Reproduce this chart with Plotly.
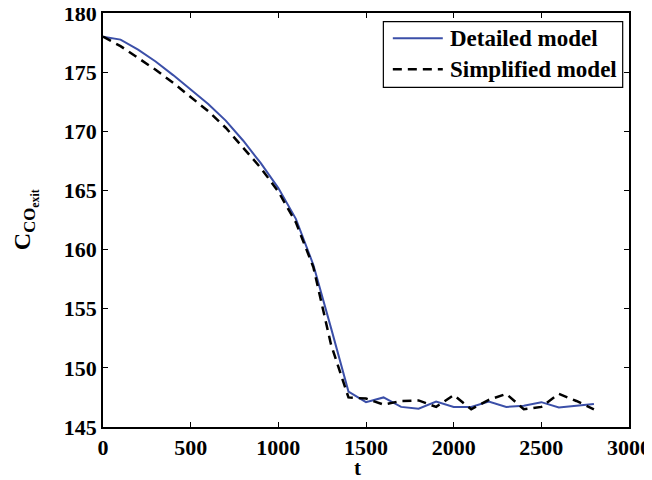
import plotly.graph_objects as go

t = [0, 100, 200, 300, 400, 500, 600, 700, 800, 900, 1000, 1100, 1200, 1300, 1400,
     1500, 1600, 1700, 1800, 1900, 2000, 2100, 2200, 2300, 2400, 2500, 2600, 2700, 2800]

detailed = [178.0, 177.75, 176.9, 175.9, 174.75, 173.55, 172.3, 170.9, 169.2, 167.3, 165.2,
            162.6, 158.7, 153.4, 148.0, 147.1, 147.5, 146.7, 146.55, 147.15, 146.7, 146.7,
            147.15, 146.7, 146.8, 147.1, 146.65, 146.8, 146.95]

simplified = [178.0, 177.2, 176.2, 175.2, 174.1, 172.9, 171.7, 170.3, 168.6, 166.9, 164.9,
              162.3, 158.5, 152.0, 147.5, 147.4, 146.9, 147.2, 147.25, 146.7, 147.7, 146.5,
              147.3, 147.8, 146.5, 146.7, 147.8, 147.2, 146.5]

series_names = ["Detailed model", "Simplified model"]
series_colors = ["#3b4fa8", "black"]
series_dash = ["solid", "9px,6px"]
series_width = [2, 2.5]

xticks = [0, 500, 1000, 1500, 2000, 2500, 3000]
yticks = [145, 150, 155, 160, 165, 170, 175, 180]

FONT = "Times New Roman, Liberation Serif, Times, serif"

fig = go.Figure()
for name, ys, col, dsh, w in zip(series_names, [detailed, simplified], series_colors,
                                 series_dash, series_width):
    fig.add_trace(go.Scatter(x=t, y=ys, mode="lines", name=name,
                             line=dict(color=col, width=w, dash=dsh)))

axis_common = dict(showline=True, linecolor="black", linewidth=1.5, mirror="ticks",
                   ticks="inside", ticklen=5, tickcolor="black", showgrid=False, zeroline=False,
                   automargin=False, ticklabeloverflow="allow",
                   tickfont=dict(family=FONT, size=22, color="black"))

# page body has an 8px offset; figure size and margins compensate for it
fig.update_layout(
    width=644, height=472,
    margin=dict(l=95, r=23, t=5, b=53, autoexpand=False),
    paper_bgcolor="white", plot_bgcolor="white",
    font=dict(family=FONT, color="black"),
    xaxis=dict(range=[0, 3000], tickvals=xticks,
               ticktext=["<b>%d</b>" % v for v in xticks], **axis_common),
    yaxis=dict(range=[145, 180], tickvals=yticks,
               ticktext=["<b>%d</b>" % v for v in yticks], **axis_common),
    showlegend=False,
)

# legend drawn manually (box, sample lines, labels)
fig.add_shape(type="rect", xref="paper", yref="paper", x0=0.533, x1=0.988, y0=0.8205, y1=0.979,
              line=dict(color="black", width=1.2), fillcolor="white", layer="above")
for i, (name, col, dsh, w) in enumerate(zip(series_names, series_colors, series_dash, series_width)):
    yy = [0.939, 0.864][i]
    fig.add_shape(type="line", xref="paper", yref="paper", x0=0.551, x1=0.646, y0=yy, y1=yy,
                  line=dict(color=col, width=w, dash=dsh), layer="above")
    fig.add_annotation(text="<b>%s</b>" % name, xref="paper", yref="paper", x=0.656, y=yy,
                       xanchor="left", yanchor="middle", showarrow=False,
                       font=dict(family=FONT, size=23, color="black"))

fig.add_annotation(text="<b>t</b>", xref="paper", yref="paper", x=0.484, y=-0.066,
                   xanchor="center", yanchor="top", showarrow=False,
                   font=dict(family=FONT, size=21, color="black"))
fig.add_annotation(text="<b>C<sub>CO<sub>exit</sub></sub></b>", xref="paper", yref="paper",
                   x=-0.148, y=0.5, xanchor="center", yanchor="middle", showarrow=False,
                   textangle=-90, font=dict(family=FONT, size=24, color="black"))

fig.write_html("out.html")
